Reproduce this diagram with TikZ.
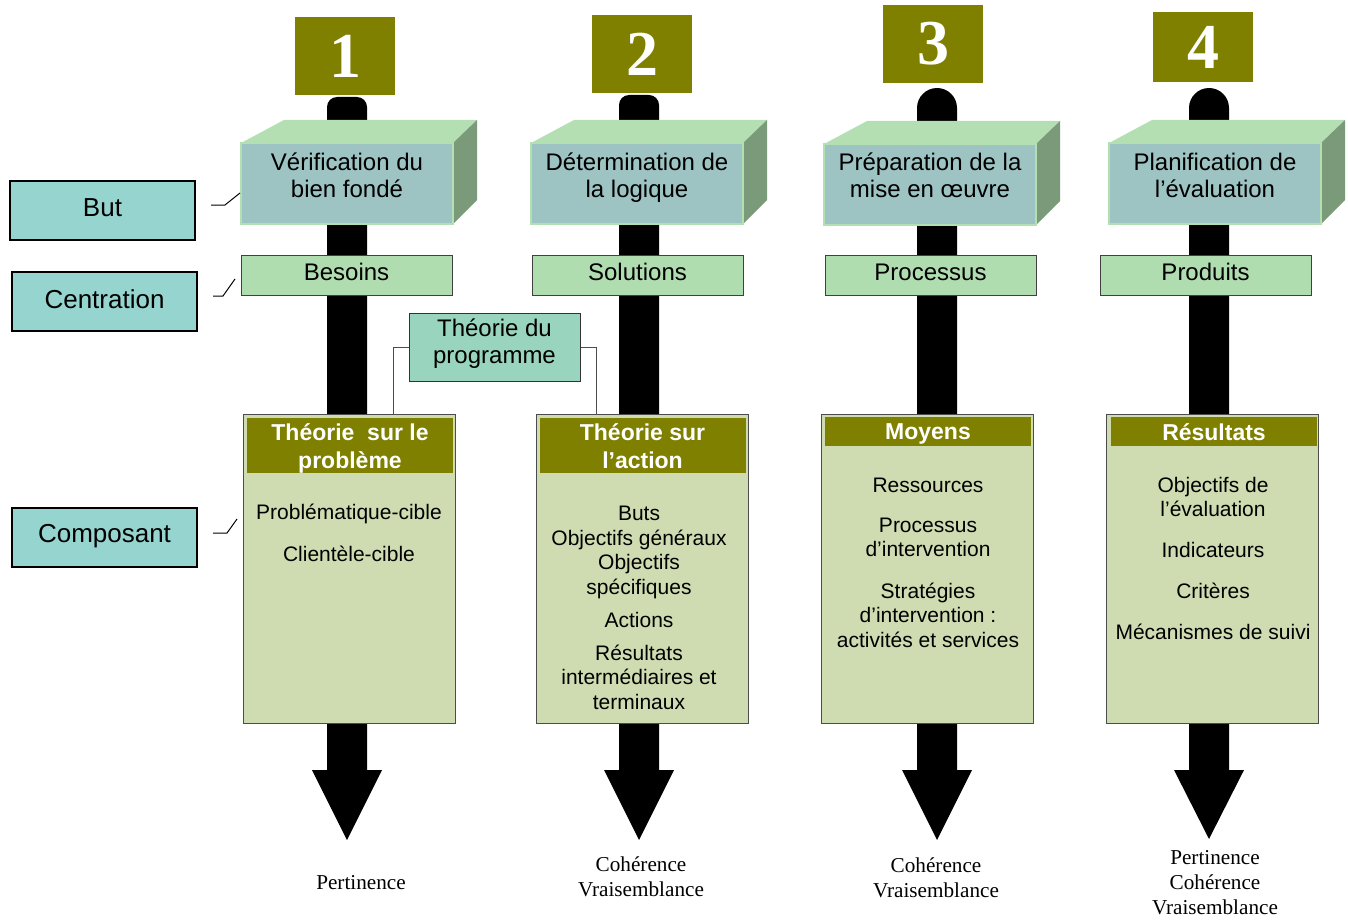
\documentclass[tikz,border=0pt]{standalone}
\usepackage{fontspec}
\setmainfont{Liberation Sans}
\newfontfamily\serifface{Liberation Serif}
\usetikzlibrary{calc}
\definecolor{oliv}{HTML}{808000}
\definecolor{frontc}{HTML}{9DC3C3}
\definecolor{frontedge}{HTML}{B3E0B3}
\definecolor{topc}{HTML}{B3DFB3}
\definecolor{sidec}{HTML}{7A9A7A}
\definecolor{centc}{HTML}{B0DDB0}
\definecolor{compc}{HTML}{CFDCB1}
\definecolor{labc}{HTML}{96D4CF}
\definecolor{tpc}{HTML}{99D5BE}
\begin{document}
\begin{tikzpicture}[x=0.5pt,y=-0.5pt,
  numbox/.style={fill=oliv, minimum width=50pt, inner sep=0pt, text=white, font=\serifface\bfseries\fontsize{32}{32}\selectfont},
  front/.style={fill=frontc, draw=frontedge, line width=0.6pt, minimum width=106pt, minimum height=40.5pt, inner sep=0pt},
  fronttext/.style={align=center, font=\fontsize{12}{13.5}\selectfont},
  centbox/.style={fill=centc, draw=black!75, line width=0.5pt, minimum width=105.5pt, minimum height=20pt, inner sep=0pt},
  centtext/.style={font=\fontsize{12}{13.5}\selectfont},
  compbox/.style={fill=compc, draw=black!70, line width=0.5pt, minimum width=106pt, minimum height=154.5pt, inner sep=0pt},
  headbox/.style={fill=oliv, minimum width=103pt, inner sep=0pt},
  headtext/.style={text=white, align=center, font=\bfseries\fontsize{11.5}{14}\selectfont},
  content/.style={align=center, font=\fontsize{10.5}{12.25}\selectfont},
  labbox/.style={fill=labc, draw=black, line width=0.8pt, minimum width=92.5pt, minimum height=29.5pt, inner sep=0pt},
  labtext/.style={font=\fontsize{13}{15}\selectfont},
  tick/.style={draw=black, line width=0.5pt},
  bracket/.style={draw=black!70, line width=0.5pt},
  bottomtext/.style={align=center, font=\serifface\fontsize{10.6}{12.5}\selectfont}
]
\useasboundingbox (0,0) rectangle (1348,920);

% ---- black bars with arrow heads ----
\fill[black] (327,770) [rounded corners=5pt] -- (327,97) -- (367,97) [sharp corners] -- (367,770) -- (382,770) -- (347,840) -- (312,770) -- cycle;
\fill[black] (619,770) [rounded corners=5pt] -- (619,95) -- (659,95) [sharp corners] -- (659,770) -- (674,770) -- (639,840) -- (604,770) -- cycle;
\fill[black] (917,770) -- (917,108) arc (180:360:20) -- (957,770) -- (972,770) -- (937,840) -- (902,770) -- cycle;
\fill[black] (1189,770) -- (1189,108) arc (180:360:20) -- (1229,770) -- (1244,770) -- (1209,839) -- (1174,770) -- cycle;

% ---- number boxes ----
\node[numbox, minimum height=39pt] (n1) at (345,56) {1};
\node[numbox, minimum height=39pt] (n2) at (642,54) {2};
\node[numbox, minimum height=39pt] (n3) at (933,44) {3};
\node[numbox, minimum height=35pt] (n4) at (1203,47) {4};

% ---- 3D boxes ----
\fill[topc] (241,143) -- (284,120) -- (477,120) -- (453,143) -- cycle;
\fill[sidec] (453,143) -- (477,120) -- (477,200) -- (453,224) -- cycle;
\node[front] (f1) at (347,183.5) {};
\node[fronttext] (t1) at (347,175.5) {Vérification du\\bien fondé};

\fill[topc] (531,143) -- (574,120) -- (767,120) -- (743,143) -- cycle;
\fill[sidec] (743,143) -- (767,120) -- (767,200) -- (743,224) -- cycle;
\node[front] (f2) at (637,183.5) {};
\node[fronttext] (t2) at (637,177.5) {Détermination de\\la logique};

\fill[topc] (824,144) -- (867,121) -- (1060,121) -- (1036,144) -- cycle;
\fill[sidec] (1036,144) -- (1060,121) -- (1060,201) -- (1036,225) -- cycle;
\node[front] (f3) at (930,184.5) {};
\node[fronttext] (t3) at (930,175) {Préparation de la\\mise en œuvre};

\fill[topc] (1109,143) -- (1152,120) -- (1345,120) -- (1321,143) -- cycle;
\fill[sidec] (1321,143) -- (1345,120) -- (1345,200) -- (1321,224) -- cycle;
\node[front] (f4) at (1215,183.5) {};
\node[fronttext] (t4) at (1215,175.5) {Planification de\\l’évaluation};

% ---- centration boxes ----
\node[centbox] (c1) at (346.5,275) {};
\node[centtext] at (346.5,272) {Besoins};
\node[centbox] (c2) at (637.5,275) {};
\node[centtext] at (637.5,272) {Solutions};
\node[centbox] (c3) at (930.5,275) {};
\node[centtext] at (930.5,272) {Processus};
\node[centbox] (c4) at (1205.5,275) {};
\node[centtext] at (1205.5,272) {Produits};

% ---- component boxes ----
\node[compbox] (k1) at (349,568.5) {};
\node[headbox, minimum height=27.5pt] (h1) at (350,445.5) {};
\node[headtext] at (350,448) {Théorie\ \ sur le\\problème};
\node[content] at (349,514) {Problématique-cible};
\node[content] at (349,554) {Clientèle-cible};

\node[compbox] (k2) at (642.5,568.5) {};
\node[headbox, minimum height=27.5pt] (h2) at (642.5,445.5) {};
\node[headtext] at (642.5,446.5) {Théorie sur\\l’action};
\node[content] at (639,552.5) {Buts\\Objectifs généraux\\Objectifs\\spécifiques};
\node[content] at (639,620) {Actions};
\node[content] at (639,677) {Résultats\\intermédiaires et\\terminaux};

\node[compbox] (k3) at (927.5,568.5) {};
\node[headbox, minimum height=14.5pt] (h3) at (928,431.5) {};
\node[headtext] at (928,434) {Moyens};
\node[content] at (928,485.5) {Ressources};
\node[content] at (928,537.5) {Processus\\d’intervention};
\node[content] at (928,615) {Stratégies\\d’intervention :\\activités et services};

\node[compbox] (k4) at (1212.5,568.5) {};
\node[headbox, minimum height=14.5pt] (h4) at (1214,431.5) {};
\node[headtext] at (1214,432) {Résultats};
\node[content] at (1213,497) {Objectifs de\\l’évaluation};
\node[content] at (1213,550) {Indicateurs};
\node[content] at (1213,591) {Critères};
\node[content] at (1213,632) {Mécanismes de suivi};

% ---- théorie du programme ----
\node[fill=tpc, draw=black!80, line width=0.5pt, minimum width=85.5pt, minimum height=34pt, inner sep=0pt] (tp) at (494.5,347) {};
\node[align=center, font=\fontsize{12}{13.5}\selectfont] at (494.5,344) {Théorie du\\programme};
\coordinate (bl) at (393,414);
\coordinate (br) at (596,414);
\draw[bracket] (tp.west) -| (bl);
\draw[bracket] (tp.east) -| (br);

% ---- left labels ----
\node[labbox] (but) at (102.5,210.5) {};
\node[labtext] at (102.5,208) {But};
\node[labbox] (cen) at (104.5,301.5) {};
\node[labtext] at (104.5,299) {Centration};
\node[labbox] (com) at (104.5,537.5) {};
\node[labtext] at (104.5,536) {Composant};
\coordinate (b0) at (211,205); \coordinate (b1) at (225,205); \coordinate (b2) at (240,193);
\coordinate (e0) at (213,296); \coordinate (e1) at (223,296); \coordinate (e2) at (235,279);
\coordinate (o0) at (213,533); \coordinate (o1) at (227,533); \coordinate (o2) at (237,519);
\draw[tick] (b0) -- (b1) -- (b2);
\draw[tick] (e0) -- (e1) -- (e2);
\draw[tick] (o0) -- (o1) -- (o2);

% ---- bottom texts ----
\node[bottomtext] (p1) at (361,883) {Pertinence};
\node[bottomtext] (p2) at (641,876.5) {Cohérence\\Vraisemblance};
\node[bottomtext] (p3) at (936,877.5) {Cohérence\\Vraisemblance};
\node[bottomtext] (p4) at (1215,883) {Pertinence\\Cohérence\\Vraisemblance};
\end{tikzpicture}
\end{document}
